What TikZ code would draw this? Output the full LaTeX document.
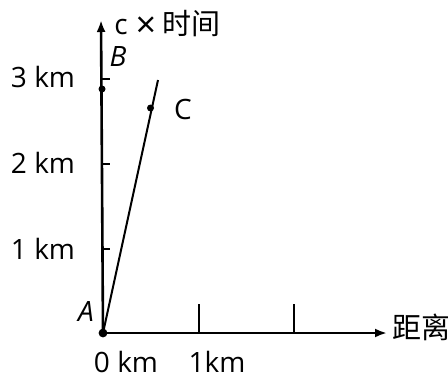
\documentclass[tikz,border=0pt]{standalone}
\usepackage{fontspec}
\setmainfont{Open Sans}
\newfontfamily\cjkfont{Noto Sans CJK SC}
\usetikzlibrary{arrows.meta}
\tikzset{
  stAxis/.style={line width=1.3pt,-{Latex[length=6pt,width=4.5pt]}},
  stTick/.style={line width=1pt},
  stWorld/.style={line width=1pt},
  stDot/.style={circle,fill=black,inner sep=0pt,minimum size=3.5pt},
  stLbl/.style={font=\fontsize{14}{16}\selectfont,inner sep=1pt},
  stCjk/.style={font=\cjkfont\fontsize{14.5}{16}\selectfont,inner sep=1pt},
}
\begin{document}
\begin{tikzpicture}[x=0.5pt,y=0.5pt]
  \useasboundingbox (0,0) rectangle (448,377);
  % axes
  \coordinate (O) at (103,44);
  \coordinate (Ytop) at (101,357);
  \coordinate (Xend) at (387,44);
  \draw[stAxis] (O) -- (Ytop);
  \draw[stAxis] (O) -- (Xend);
  \node[stLbl,anchor=west,inner sep=0pt] (Ylab) at (114,353)
    {c\hspace{4pt}\raisebox{-1.2pt}{\fontsize{18}{18}\selectfont ×}\hspace{3pt}{\cjkfont\fontsize{14.5}{16}\selectfont 时间}};
  \node[stCjk,anchor=west,inner sep=0pt] (Xlab) at (392,50) {距离};

  % ticks on the time axis
  \foreach \k/\yy in {1/128,2/213,3/298}{
    \coordinate (T\k) at (102,\yy);
    \coordinate (T\k r) at (110,\yy);
    \draw[stTick] (T\k) -- (T\k r);
  }
  \node[stLbl] (Lt1) at (43,128) {1 km};
  \node[stLbl] (Lt2) at (43,214) {2 km};
  \node[stLbl] (Lt3) at (43,300) {3 km};
  % ticks on the distance axis
  \foreach \k/\xx in {1/199,2/294}{
    \coordinate (D\k) at (\xx,44);
    \coordinate (D\k u) at (\xx,73);
    \draw[stTick] (D\k) -- (D\k u);
  }
  \node[stLbl] (L0) at (126,15) {0 km};
  \node[stLbl] (L1) at (217,15) {1km};

  % events
  \node[stLbl] (A) at (86,66) {\itshape A};
  \node[stDot] (Bdot) at (102,288) {};
  \node[stLbl] (B) at (118,320) {\itshape B};
  \coordinate (Ctop) at (158,297);
  \draw[stWorld] (O) -- (Ctop);
  \node[stDot] (Cdot) at (150.5,269) {};
  \node[stLbl] (C) at (183,268) {C};
  \fill (O) circle (2.2pt);
\end{tikzpicture}
\end{document}
